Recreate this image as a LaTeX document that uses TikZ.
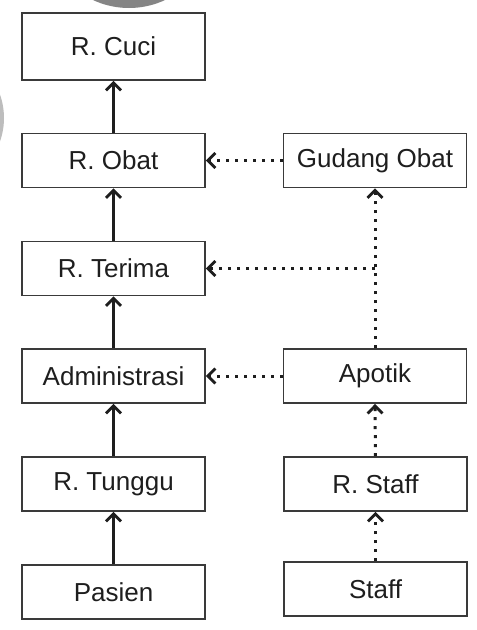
\documentclass[tikz,border=0pt]{standalone}
\usepackage{fontspec}
\setmainfont{Liberation Sans}
\usetikzlibrary{arrows.meta}
\definecolor{ink}{HTML}{1E1E1E}
\definecolor{frame}{HTML}{3A3A3A}
\definecolor{blob}{HTML}{858585}
\definecolor{blobl}{HTML}{BDBDBD}
\begin{document}
\begin{tikzpicture}[x=1pt,y=-1pt,
  room/.style={draw=frame, line width=1.9pt, fill=white, inner sep=0pt,
    minimum width=183pt, minimum height=54pt, text=ink,
    font=\fontsize{26}{30}\selectfont},
  tip/.style={-{Straight Barb[length=7.5pt,width=15pt,line width=2.8pt]}},
  flow/.style={tip, draw=ink, line width=3pt},
  feed/.style={tip, draw=ink, line width=3pt, dash pattern=on 3pt off 6pt}]
  \useasboundingbox (0,0) rectangle (477,630);
  \begin{scope}
    \clip (0,0) rectangle (477,630);
    \fill[blob] (129,-77) circle (85);
    \fill[blobl] (-66,118) circle (70);
  \end{scope}

  % patient route
  \node[room, minimum height=67pt] (cuci) at (113.5,46.5) {R. Cuci};
  \node[room] (obat)   at (113.5,160.5) {R. Obat};
  \node[room] (terima) at (113.5,268.5) {R. Terima};
  \node[room] (admin)  at (113.5,376)   {Administrasi};
  \node[room] (tunggu) at (113.5,484)   {R. Tunggu};
  \node[room] (pasien) at (113.5,592)   {Pasien};

  % staff route
  \node[room] (gudang) at (375,160.5) {Gudang Obat};
  \node[room] (apotik) at (375,376)   {Apotik};
  \node[room] (rstaff) at (375.5,484) {R. Staff};
  \node[room] (staff)  at (375.5,589) {Staff};

  \draw[flow] (pasien) -- (tunggu);
  \draw[flow] (tunggu) -- (admin);
  \draw[flow] (admin)  -- (terima);
  \draw[flow] (terima) -- (obat);
  \draw[flow] (obat)   -- (cuci);

  \draw[feed] (staff.north)  -- (rstaff.south);
  \draw[feed] (rstaff.north) -- (apotik.south);
  \draw[feed] (apotik.north) -- (gudang.south);
  \draw[feed] (apotik.west)  -- (admin.east);
  \draw[feed] (gudang.west)  -- (obat.east);
  \coordinate (split) at (375,268.5);
  \draw[feed] (split) -- (terima.east);
\end{tikzpicture}
\end{document}
